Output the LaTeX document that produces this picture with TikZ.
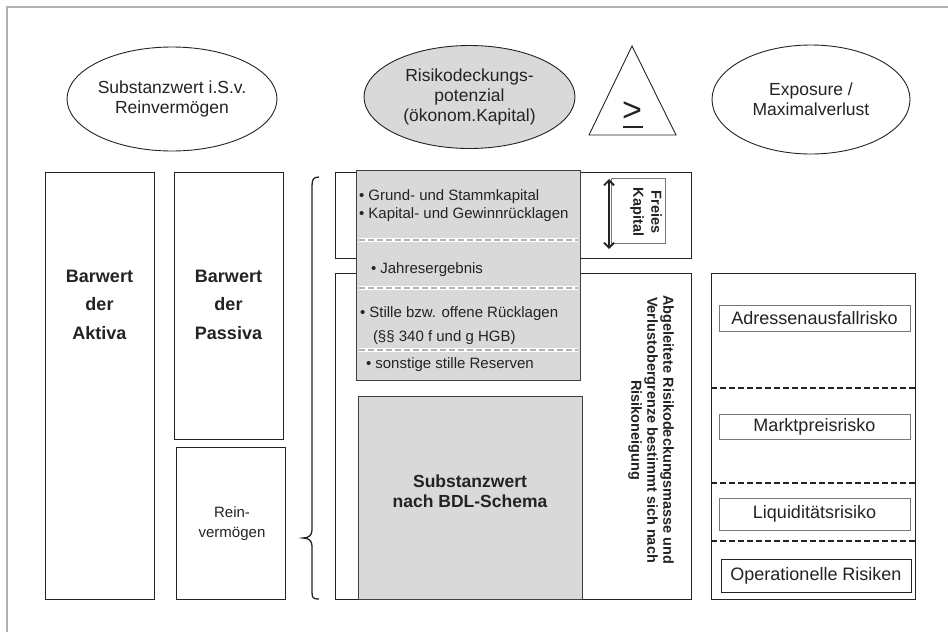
\documentclass[tikz,border=0pt]{standalone}
\usepackage{fontspec}
\setmainfont{Liberation Sans}
\usetikzlibrary{arrows.meta,shapes.geometric}
\definecolor{ink}{RGB}{35,35,35}
\definecolor{boxgray}{RGB}{217,217,217}
\definecolor{edgegray}{RGB}{64,64,64}
\definecolor{framegray}{RGB}{178,178,178}
\definecolor{rulegray}{RGB}{178,178,178}
\definecolor{thingray}{RGB}{120,120,120}

\begin{document}
\begin{tikzpicture}[x=1pt,y=-1pt,
  every node/.style={inner sep=0pt,outer sep=0pt,text=ink},
  oval/.style={ellipse,draw=ink,line width=0.9pt,align=center,
    font=\fontsize{17.5}{20}\selectfont},
  panel/.style={rectangle,draw=ink,line width=1pt,fill=white},
  shaded/.style={rectangle,draw=edgegray,line width=1pt,fill=boxgray},
  riskbox/.style={rectangle,draw=thingray,line width=0.9pt,fill=white,
    font=\fontsize{18}{20}\selectfont},
  bigbold/.style={align=center,font=\fontsize{18}{28.5}\selectfont\bfseries},
  item/.style={anchor=base west,font=\fontsize{15}{18}\selectfont},
  sepline/.style={line width=2pt,draw=rulegray,dash pattern=on 6pt off 3pt},
  riskcut/.style={line width=1.5pt,draw=ink,dash pattern=on 6pt off 3pt}
]
\useasboundingbox (0,0) rectangle (948,632);

% page frame (top and left edge)
\draw[framegray,line width=2pt] (7,632) -- (7,7) -- (948,7);

% headline ellipses and the comparison triangle
\node[oval,minimum width=198pt,minimum height=104pt] (subst) at (172,99)
  {Substanzwert i.S.v.\\Reinvermögen};
\node[oval,fill=boxgray,minimum width=211pt,minimum height=103pt] (rdp) at (469.5,97)
  {Risikodeckungs-\\potenzial\\(ökonom.Kapital)};
\node[oval,minimum width=198pt,minimum height=109pt] (expo) at (811,99.5)
  {Exposure /\\Maximalverlust};
\draw[ink,line width=0.9pt,line join=miter] (589,135) -- (676,135) -- (632,46) -- cycle;
\node[anchor=base,font=\fontsize{34}{34}\selectfont] (geq) at (632,121) {>};
\draw[ink,line width=2.2pt] (623,127) -- (643,127);

% balance sheet columns
\node[panel,minimum width=109pt,minimum height=427pt] (aktiva) at (99.5,385.5) {};
\node[bigbold] (aktivatxt) at (99.5,304.5) {Barwert\\der\\Aktiva};
\node[panel,minimum width=109pt,minimum height=267pt] (passiva) at (228.5,305.5) {};
\node[bigbold] (passivatxt) at (228.5,304.5) {Barwert\\der\\Passiva};
\node[panel,minimum width=109pt,minimum height=152pt] (rein) at (230.5,523) {};
\node[align=center,font=\fontsize{15}{20}\selectfont] (reintxt) at (232,524) {Rein-\\vermögen};

% curly brace
\draw[ink,line width=1.3pt]
  (319,177) .. controls (313,177) and (312,180) .. (312,186)
  -- (312,530) .. controls (312,535) and (309,538) .. (303,538)
  .. controls (309,538) and (312,541) .. (312,546)
  -- (312,592) .. controls (312,598) and (313,599) .. (319,599);

% capital frames
\node[panel,minimum width=356pt,minimum height=86pt] (freeframe) at (513,215) {};
\node[panel,minimum width=356pt,minimum height=326pt] (lowframe) at (513,436) {};

% equity components
\node[shaded,minimum width=224pt,minimum height=210pt] (equity) at (468,275) {};
\node[item] (i1) at (359,200) {• Grund- und Stammkapital};
\node[item] (i2) at (359,218) {• Kapital- und Gewinnrücklagen};
\node[item] (i3) at (371,273) {• Jahresergebnis};
\node[item] (i4) at (360,317) {• Stille bzw. offene Rücklagen};
\node[item] (i5) at (373,341) {(§§ 340 f und g HGB)};
\node[item] (i6) at (366,368) {• sonstige stille Reserven};
\foreach \yy in {240,288,350}{
  \draw[white,line width=3.5pt] (359,\yy) -- (578,\yy);
  \draw[sepline] (359,\yy) -- (578,\yy);
}

\node[shaded,minimum width=224pt,minimum height=203pt] (bdl) at (470,497.5) {};
\node[align=center,font=\fontsize{17.5}{20}\selectfont\bfseries] (bdltxt) at (470,491)
  {Substanzwert\\nach BDL-Schema};

% free capital marker
\node[rectangle,draw=thingray,line width=0.9pt,minimum width=54pt,minimum height=65pt] (freebox) at (638,210.5) {};
\node[rotate=-90,align=center,font=\fontsize{14.5}{18}\selectfont\bfseries] (freetxt) at (646,212)
  {Freies\\Kapital};
\coordinate (fkTop) at (609,179);
\coordinate (fkBot) at (609,249);
\draw[ink,line width=1.8pt,{Straight Barb[length=5pt,width=10pt]}-{Straight Barb[length=5pt,width=10pt]}]
  (fkTop) -- (fkBot);

\node[rotate=-90,align=center,font=\fontsize{14.5}{16}\selectfont\bfseries] (derived) at (651,430)
  {Abgeleitete Risikodeckungsmasse und\\Verlustobergrenze bestimmt sich nach\\Risikoneigung};

% risk categories
\node[panel,minimum width=204pt,minimum height=326pt] (riskframe) at (813,436) {};
\node[riskbox,minimum width=191pt,minimum height=26pt] (adr) at (814.5,318) {Adressenausfallrisko};
\node[riskbox,minimum width=191pt,minimum height=25pt] (markt) at (814.5,426.5) {Marktpreisrisko};
\node[riskbox,minimum width=191pt,minimum height=32pt] (liq) at (814.5,514) {Liquiditätsrisiko};
\node[riskbox,draw=ink,minimum width=190pt,minimum height=33pt] (oper) at (816,575.5) {Operationelle Risiken};
\foreach \yy in {388,483,541}{
  \draw[riskcut] (711,\yy) -- (917,\yy);
}
\end{tikzpicture}
\end{document}
